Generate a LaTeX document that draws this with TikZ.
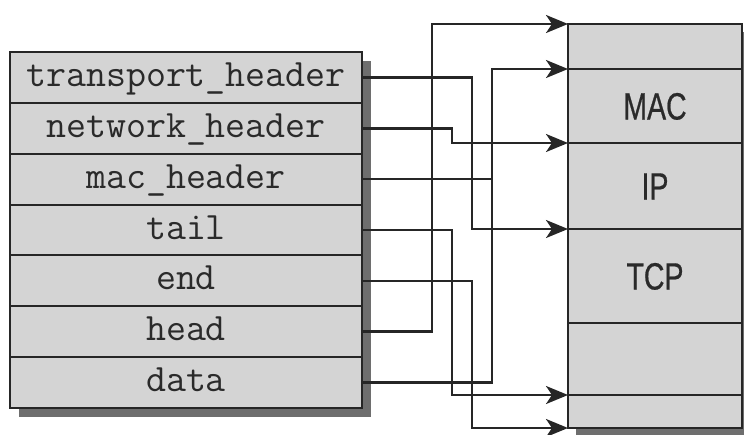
\documentclass[tikz,border=0pt]{standalone}
\usepackage{fontspec}
\newfontfamily\hdrfont{Liberation Sans}[FakeStretch=0.75,FakeBold=0.6]
\usetikzlibrary{arrows.meta,backgrounds,calc,positioning}

\definecolor{cellgray}{HTML}{D4D4D4}
\definecolor{shadowgray}{HTML}{6E6E6E}
\definecolor{linegray}{HTML}{262626}
\definecolor{textgray}{HTML}{2A2A2A}

\tikzset{
    field/.style={draw=linegray, line width=1pt, fill=cellgray,
        minimum width=176pt, minimum height=25.43pt,
        inner sep=0pt, outer sep=0pt, text height=11pt, text depth=2pt,
        font=\ttfamily\fontsize{19.4}{19.4}\selectfont, text=textgray},
    layer/.style={draw=linegray, line width=1pt, fill=cellgray,
        minimum width=87pt, inner sep=0pt, outer sep=0pt,
        text height=13.5pt, text depth=0pt,
        font=\hdrfont\fontsize{19}{19}\selectfont, text=textgray},
    ptr/.style={draw=linegray, line width=1.3pt,
        -{Stealth[length=11pt,width=9pt,inset=3pt]}},
    wire/.style={draw=linegray, line width=1.3pt},
}

\begin{document}
\begin{tikzpicture}[x=0.5pt, y=-0.5pt]
    \useasboundingbox (0,0) rectangle (744,434);

    % sk_buff fields
    \node[field, anchor=north west] at (10,52) (th) {transport\_header};
    \node[field, below=0pt of th] (nh) {network\_header};
    \node[field, below=0pt of nh] (mh) {mac\_header};
    \node[field, below=0pt of mh] (tl) {tail};
    \node[field, below=0pt of tl] (en) {end};
    \node[field, below=0pt of en] (hd) {head};
    \node[field, below=0pt of hd] (dt) {data};

    % buffer
    \node[layer, minimum height=22.5pt, anchor=north west] at (568,24) (headroom) {};
    \node[layer, minimum height=37pt, below=0pt of headroom] (mac) {MAC};
    \node[layer, minimum height=43pt, below=0pt of mac] (ip) {IP};
    \node[layer, minimum height=47pt, below=0pt of ip] (tcp) {TCP};
    \node[layer, minimum height=36pt, below=0pt of tcp] (payload) {};
    \node[layer, minimum height=16.5pt, below=0pt of payload] (tailroom) {};

    \begin{scope}[on background layer]
        \fill[shadowgray] ($(th.north west)+(9,9)$) rectangle ($(dt.south east)+(9,9)$);
        \fill[shadowgray] ($(headroom.north west)+(8,8)$) rectangle ($(tailroom.south east)+(8,8)$);
    \end{scope}

    % lanes
    \coordinate (laneA) at (432,0);
    \coordinate (laneB) at (452,0);
    \coordinate (laneC) at (472,0);
    \coordinate (laneD) at (492,0);

    \draw[ptr] (hd.east) -- (hd.east -| laneA) |- (headroom.north west);
    \draw[ptr] (dt.east) -- (dt.east -| laneD) |- (mac.north west);
    \draw[wire] (mh.east) -- (mh.east -| laneD);
    \draw[ptr] (nh.east) -- (nh.east -| laneB) |- (ip.north west);
    \draw[ptr] (th.east) -- (th.east -| laneC) |- (tcp.north west);
    \draw[ptr] (tl.east) -- (tl.east -| laneB) |- (tailroom.north west);
    \draw[ptr] (en.east) -- (en.east -| laneC) |- (tailroom.south west);

\end{tikzpicture}
\end{document}
